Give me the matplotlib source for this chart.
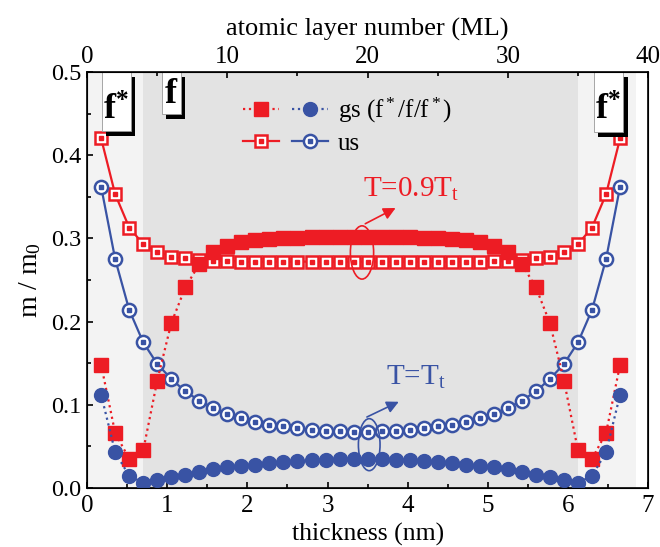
import matplotlib
matplotlib.use("Agg")
import matplotlib.pyplot as plt
import numpy as np
from matplotlib.patches import Ellipse, Rectangle
from matplotlib.legend_handler import HandlerTuple
from matplotlib.ticker import MultipleLocator, FormatStrFormatter

plt.rcParams['font.family'] = ['Liberation Serif', 'DejaVu Serif']
plt.rcParams['mathtext.fontset'] = 'custom'
plt.rcParams['mathtext.rm'] = 'Liberation Serif'
plt.rcParams['mathtext.it'] = 'Liberation Serif:italic'
plt.rcParams['mathtext.bf'] = 'Liberation Serif:bold'

# atomic layers 1..38, 0.175 nm per layer (40 ML = 7 nm)
layers = np.arange(1, 39)
nm_per_ml = 7.0 / 40.0

gs_red = [0.148, 0.066, 0.035, 0.045, 0.129, 0.198, 0.241, 0.269, 0.284, 0.291,
          0.295, 0.298, 0.299, 0.300, 0.300, 0.301, 0.301, 0.301, 0.301,
          0.301, 0.301, 0.301, 0.301, 0.300, 0.300, 0.299, 0.298, 0.295, 0.291,
          0.284, 0.269, 0.241, 0.198, 0.129, 0.045, 0.035, 0.066, 0.148]
gs_blue = [0.112, 0.043, 0.0144, 0.0064, 0.0096, 0.0128, 0.0156, 0.019, 0.0224, 0.0248,
           0.0268, 0.028, 0.030, 0.031, 0.032, 0.033, 0.034, 0.035, 0.035,
           0.035, 0.035, 0.034, 0.033, 0.032, 0.031, 0.030, 0.028, 0.0268, 0.0248,
           0.0224, 0.019, 0.0156, 0.0128, 0.0096, 0.0064, 0.0144, 0.043, 0.112]
us_red = [0.420, 0.353, 0.313, 0.293, 0.284, 0.278, 0.276, 0.274, 0.273, 0.273,
          0.272, 0.272, 0.272, 0.272, 0.272, 0.272, 0.272, 0.272, 0.272,
          0.272, 0.272, 0.272, 0.272, 0.272, 0.272, 0.272, 0.272, 0.272, 0.273,
          0.273, 0.274, 0.276, 0.278, 0.284, 0.293, 0.313, 0.353, 0.420]
us_blue = [0.362, 0.275, 0.214, 0.175, 0.149, 0.131, 0.116, 0.105, 0.096, 0.089,
           0.084, 0.079, 0.076, 0.074, 0.072, 0.070, 0.069, 0.068, 0.067,
           0.067, 0.068, 0.069, 0.070, 0.072, 0.074, 0.076, 0.079, 0.084, 0.089,
           0.096, 0.105, 0.116, 0.131, 0.149, 0.175, 0.214, 0.275, 0.362]

red = '#ed1c24'
blue = '#3953a4'

x = layers * nm_per_ml

fig = plt.figure(figsize=(6.6, 5.47), dpi=100)
ax = fig.add_axes([0.132, 0.108, 0.850, 0.7605])

# shaded regions: outer surface (f*) and inner (f)
ax.axvspan(0.0, 6.85, color='#f3f3f3', zorder=0, lw=0)
ax.axvspan(0.70, 6.13, color='#e3e3e3', zorder=0, lw=0)

ms = 10
l_gsr, = ax.plot(x, gs_red, ls=':', color=red, lw=1.6, marker='s', ms=ms, mec=red, mfc=red, zorder=4)
l_gsb, = ax.plot(x, gs_blue, ls=':', color=blue, lw=1.6, marker='o', ms=ms, mec=blue, mfc=blue, zorder=4)
l_usr, = ax.plot(x, us_red, ls='-', color=red, lw=1.6, marker='s', ms=9, mec=red, mfc='white', mew=1.8, zorder=3)
d_usr, = ax.plot(x, us_red, ls='none', color=red, marker='s', ms=2.2, mec=red, mfc=red, zorder=3)
l_usb, = ax.plot(x, us_blue, ls='-', color=blue, lw=1.6, marker='o', ms=9.5, mec=blue, mfc='white', mew=1.8, zorder=3)
d_usb, = ax.plot(x, us_blue, ls='none', color=blue, marker='s', ms=2.2, mec=blue, mfc=blue, zorder=3)

ax.set_xlim(0, 7)
ax.set_ylim(0, 0.5)
ax.xaxis.set_major_locator(MultipleLocator(1))
ax.xaxis.set_minor_locator(MultipleLocator(0.5))
ax.yaxis.set_major_locator(MultipleLocator(0.1))
ax.yaxis.set_minor_locator(MultipleLocator(0.05))
ax.yaxis.set_major_formatter(FormatStrFormatter('%.1f'))
ax.tick_params(which='both', direction='in', width=1.2, top=False, right=False)
ax.tick_params(which='major', length=4.5)
ax.tick_params(which='minor', length=3)
ax.tick_params(axis='x', pad=5, labelsize=18)
ax.tick_params(axis='y', pad=4, labelsize=17.5)
for s in ax.spines.values():
    s.set_linewidth(1.2)
ax.set_xlabel('thickness (nm)', fontsize=18.5, labelpad=4)
ax.set_ylabel(r'm / m$_\mathrm{0}$', fontsize=20, labelpad=6)

ax2 = ax.twiny()
ax2.set_xlim(0, 40)
ax2.xaxis.set_major_locator(MultipleLocator(10))
ax2.xaxis.set_minor_locator(MultipleLocator(5))
ax2.tick_params(which='both', direction='in', labelsize=18, width=1.2, pad=3)
ax2.tick_params(which='major', length=4.5)
ax2.tick_params(which='minor', length=3)
ax2.set_xlabel('atomic layer number (ML)', fontsize=19, labelpad=7)

# f* / f / f* boxes with drop shadows
boxes = [(0.18, 0.545, 0.429, 0.442, r'$\mathbf{f}^{\mathbf{*}}$'),
         (0.93, 1.17, 0.450, 0.463, r'$\mathbf{f}$'),
         (6.32, 6.69, 0.428, 0.442, r'$\mathbf{f}^{\mathbf{*}}$')]
for x0, x1, y0, yt, lab in boxes:
    ax.add_patch(Rectangle((x0 + 0.055, y0 - 0.0065), x1 - x0, 0.5 - y0, fc='black', ec='none', zorder=5))
    ax.add_patch(Rectangle((x0, y0), x1 - x0, 0.5 - y0, fc='white', ec='#999999', lw=0.6, zorder=6))
    ax.text((x0 + x1) / 2, yt, lab, ha='center', va='baseline', fontsize=26, zorder=7)

# annotations
ax.add_patch(Ellipse((3.43, 0.283), 0.29, 0.064, fill=False, ec=red, lw=1.2, zorder=5))
ax.annotate('', xy=(3.88, 0.338), xytext=(3.44, 0.316),
            arrowprops=dict(arrowstyle='-|>', color=red, lw=1.2, mutation_scale=18), zorder=5)
ax.text(3.44, 0.350, r'T=0.9T$_\mathrm{t}$', color=red, fontsize=21, ha='left', va='baseline')

ax.add_patch(Ellipse((3.52, 0.052), 0.27, 0.0625, fill=False, ec=blue, lw=1.2, zorder=5))
ax.annotate('', xy=(3.92, 0.105), xytext=(3.46, 0.0838),
            arrowprops=dict(arrowstyle='-|>', color=blue, lw=1.2, mutation_scale=18), zorder=5)
ax.text(3.73, 0.124, r'T=T$_\mathrm{t}$', color=blue, fontsize=21, ha='left', va='baseline')

# legend
h_gs = (l_gsr, l_gsb)
h_us = ((l_usr, d_usr), (l_usb, d_usb))
leg = ax.legend([h_gs, h_us], [r'gs (f$^*$/f/f$^*$)', 'us'],
                handler_map={h_gs: HandlerTuple(ndivide=None, pad=0.5),
                             h_us: HandlerTuple(ndivide=None, pad=0.5)},
                loc='upper left', bbox_to_anchor=(0.26, 0.967), frameon=False,
                fontsize=18, handlelength=3.4, handletextpad=0.4, labelspacing=0.3,
                numpoints=1, borderaxespad=0)
leg.set_zorder(8)

fig.savefig('out.png', dpi=100)
